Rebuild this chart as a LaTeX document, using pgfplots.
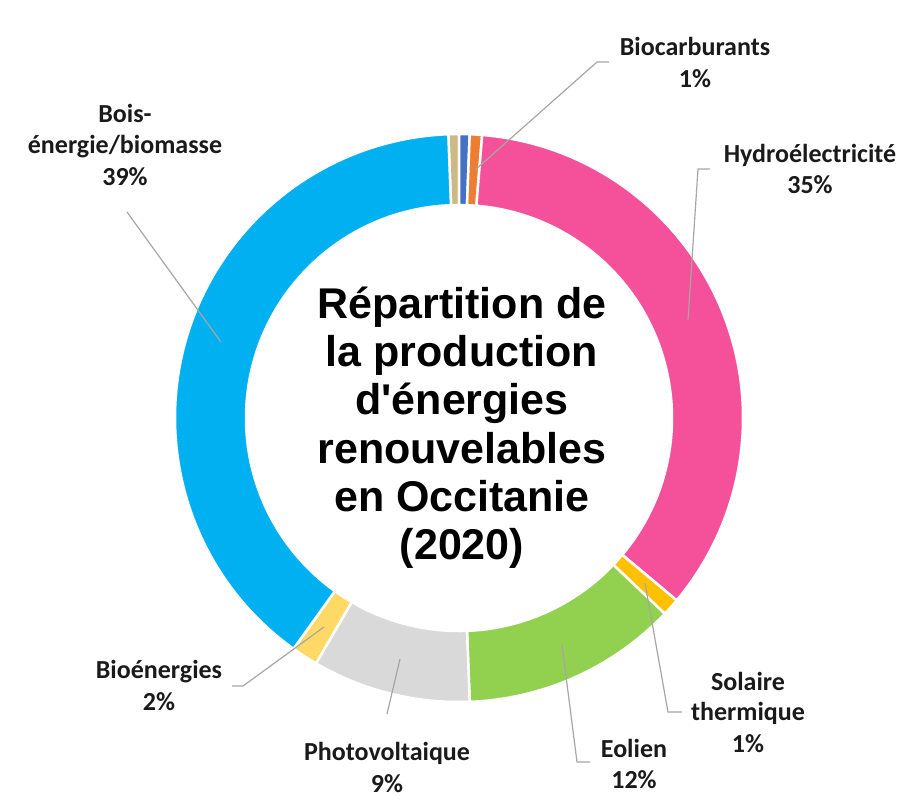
\documentclass[border=0pt]{standalone}
\usepackage{pgfplots}
\pgfplotsset{compat=1.18}
\usepackage{pgfplotstable}
\usetikzlibrary{calc}
\usepackage{fontspec}
\setmainfont{Carlito}
\newfontfamily\labelfont{Carlito}
\newfontfamily\titlefont{Liberation Sans}

\definecolor{cTan}{HTML}{CBBA88}
\definecolor{cDarkBlue}{HTML}{4472C4}
\definecolor{cBiocarb}{HTML}{ED7D31}
\definecolor{cHydro}{HTML}{F5509A}
\definecolor{cSolaire}{HTML}{FFC000}
\definecolor{cEolien}{HTML}{92D050}
\definecolor{cPV}{HTML}{D9D9D9}
\definecolor{cBioen}{HTML}{FFD966}
\definecolor{cBois}{HTML}{00B0F0}
\definecolor{cLeader}{HTML}{A6A6A6}
\definecolor{cText}{HTML}{1A1A1A}

% share of each source (percent), clockwise from the top
\pgfplotstableread[col sep=comma]{
name,value,col
Autre1,0.6,cTan
Autre2,0.6,cDarkBlue
Biocarburants,0.7,cBiocarb
Hydroelectricite,34.8,cHydro
Solaire thermique,1.0,cSolaire
Eolien,12.3,cEolien
Photovoltaique,9.0,cPV
Bioenergies,1.5,cBioen
Bois-energie/biomasse,39.5,cBois
}\energies

\begin{document}
\begin{tikzpicture}
\begin{axis}[
  scale only axis, width=450pt, height=405.5pt,
  xmin=0, xmax=900, ymin=0, ymax=811, y dir=reverse,
  hide axis, clip=false]
\pgfplotsextra{
  \coordinate (C) at (axis cs:459,418);
  \xdef\cum{-0.6}
  \foreach \i in {0,...,8}{
    \pgfplotstablegetelem{\i}{value}\of\energies \let\sval\pgfplotsretval
    \pgfplotstablegetelem{\i}{col}\of\energies \let\scol\pgfplotsretval
    \pgfmathsetmacro{\aone}{90-3.6*(\cum)}
    \pgfmathsetmacro{\atwo}{90-3.6*(\cum+\sval)}
    \filldraw[fill=\scol, draw=white, line width=1.25pt, line join=round]
      ($(C)+(\aone:142pt)$) arc[start angle=\aone, end angle=\atwo, radius=142pt]
      -- ($(C)+(\atwo:106.5pt)$) arc[start angle=\atwo, end angle=\aone, radius=106.5pt]
      -- cycle;
    \pgfmathsetmacro{\nc}{\cum+\sval}\xdef\cum{\nc}
  }
}
% leader lines
\draw[cLeader, line width=0.6pt] (axis cs:475,170) -- (axis cs:597,62) -- (axis cs:609,62);
\draw[cLeader, line width=0.6pt] (axis cs:688,320) -- (axis cs:698,169) -- (axis cs:710,169);
\draw[cLeader, line width=0.6pt] (axis cs:221,342) -- (axis cs:127,212);
\draw[cLeader, line width=0.6pt] (axis cs:324,627) -- (axis cs:243,686) -- (axis cs:232,686);
\draw[cLeader, line width=0.6pt] (axis cs:400,659) -- (axis cs:387,714);
\draw[cLeader, line width=0.6pt] (axis cs:562,645) -- (axis cs:577,762) -- (axis cs:590,762);
\draw[cLeader, line width=0.6pt] (axis cs:645,583) -- (axis cs:668,712) -- (axis cs:682,712);

% title
\begin{scope}[every node/.style={anchor=base, inner sep=0pt, text=black, font=\titlefont\bfseries\fontsize{21.5pt}{24pt}\selectfont}]
\node at (axis cs:462,318) {Répartition de};
\node at (axis cs:462,366) {la production};
\node at (axis cs:462,414) {d'énergies};
\node at (axis cs:462,463) {renouvelables};
\node at (axis cs:462,511) {en Occitanie};
\node at (axis cs:462,559) {(2020)};
\end{scope}

% data labels
\begin{scope}[every node/.style={anchor=base, inner sep=0pt, text=cText, font=\labelfont\bfseries\fontsize{13pt}{15.5pt}\selectfont}]
\node at (axis cs:695,55) {Biocarburants};
\node at (axis cs:695,87) {1\%};
\node at (axis cs:810,162) {Hydroélectricité};
\node at (axis cs:810,193) {35\%};
\node at (axis cs:125,122) {Bois-};
\node at (axis cs:125,153) {énergie/biomasse};
\node at (axis cs:125,185) {39\%};
\node at (axis cs:159,678) {Bioénergies};
\node at (axis cs:159,710) {2\%};
\node at (axis cs:387,760) {Photovoltaique};
\node at (axis cs:387,792) {9\%};
\node at (axis cs:634,757) {Eolien};
\node at (axis cs:634,788) {12\%};
\node at (axis cs:748,690) {Solaire};
\node at (axis cs:748,720) {thermique};
\node at (axis cs:748,752) {1\%};
\end{scope}
\end{axis}
\pgfresetboundingbox
\path (current axis.south west) rectangle (current axis.north east);
\end{tikzpicture}
\end{document}
